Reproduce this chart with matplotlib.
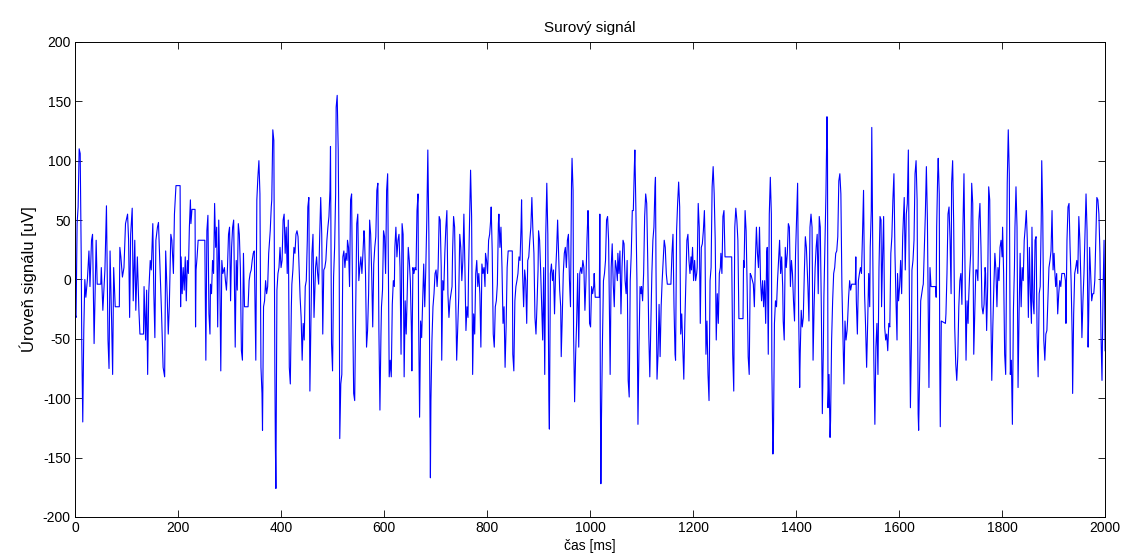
import numpy as np
import matplotlib
matplotlib.use("Agg")
import matplotlib.pyplot as plt

plt.rcParams['font.family'] = ['Liberation Sans', 'DejaVu Sans']
plt.rcParams['axes.unicode_minus'] = False

# raw signal, split into 200 ms pieces (time in ms, level in uV)
t_000 = [0, 2, 4, 6, 8, 10, 12, 13, 15, 17, 19, 21, 24, 27, 29, 32, 34, 37, 41, 43, 50, 51, 54, 58, 61, 64, 66, 68, 71, 73,
         75, 78, 86, 87, 89, 92, 95, 98, 102, 104, 106, 108, 111, 113, 116, 118, 121, 124, 126, 133, 134, 137, 139, 141,
         143, 146, 148, 151, 153, 155, 157, 160, 162, 165, 168, 171, 174, 176, 179, 181, 183, 186, 188, 191, 193, 196]
u_000 = [-29, -32, 47, 61, 110, 106, 19, -51, -120, -43, 0, -15, 0, 24, -6, 33, 38, -54, 33, -4, -4, 10, -26, 8, 62, -51,
         -75, 24, -35, -80, 10, -23, -23, 27, 19, 2, 10, 47, 55, 33, -32, 38, 60, -18, 33, -26, 19, -26, -46, -46, -6, -51,
         -9, -80, -12, 16, 8, 47, -12, -49, 33, 44, 48, 10, -29, -74, -82, 24, -15, -46, -23, 38, 33, 5, 55, 79]

t_200 = [204, 205, 206, 208, 210, 212, 214, 216, 218, 220, 222, 224, 225, 227, 233, 234, 235, 237, 239, 252, 253, 254, 256,
         258, 260, 262, 263, 265, 267, 269, 271, 273, 275, 277, 279, 281, 283, 285, 287, 290, 292, 294, 296, 298, 300, 302,
         304, 306, 308, 311, 313, 315, 317, 319, 321, 323, 325, 327, 329, 336, 338, 340, 342, 344, 346, 348, 350, 351, 353,
         355, 357, 359, 361, 363, 364, 366, 368, 370, 372, 374, 376, 379, 381, 382, 384, 386, 388, 389, 390, 392, 394]
u_200 = [79, -23, 19, -12, 10, -9, 19, -18, 16, 5, 44, 67, 47, 59, 59, -40, 8, 19, 33, 33, -23, -68, 41, 54, -29, -46, -4,
         -12, 16, 5, 64, 27, 44, -40, 50, 5, -77, 16, 5, 10, -1, -9, 10, 38, 44, -18, 27, 44, 50, -57, 16, -9, 47, 38, 10,
         -60, -68, 22, -23, -23, -1, 5, 8, 16, 22, 24, -35, -68, 67, 86, 100, 72, -74, -96, -127, -23, -18, -1, -12, -6, 22,
         41, 61, 67, 126, 117, -77, -141, -176, -9, 5]

t_400 = [396, 398, 400, 402, 404, 406, 408, 410, 412, 414, 416, 418, 420, 421, 423, 425, 427, 429, 431, 433, 435, 437, 439,
         441, 443, 445, 447, 449, 451, 452, 454, 456, 458, 460, 462, 464, 465, 467, 469, 471, 473, 475, 477, 479, 481, 483,
         485, 487, 489, 491, 493, 495, 496, 498, 500, 502, 504, 506, 507, 509, 511, 513, 514, 516, 518, 520, 522, 524, 526,
         528, 529, 531, 533, 535, 537, 539, 541, 543, 545, 547, 549, 551, 553, 555, 557, 559, 561, 562, 564, 566, 568, 570,
         572, 574, 576, 578, 580, 582, 584, 586, 588, 590, 592, 594, 595, 597, 599, 601, 603, 605, 607]
u_400 = [10, 27, 10, 16, 50, 55, 22, 44, 5, 50, -74, -88, -23, -4, 8, 27, 22, 38, 41, 36, 10, -15, -32, -68, -37, -51, -6,
         -1, 33, 61, 69, -94, -35, 22, 38, -32, -18, 10, 19, 5, -4, 36, 69, 38, -46, 8, 10, 16, 33, 44, 53, 75, 112, -54,
         -77, 2, 27, 72, 145, 155, 109, 5, -134, -88, -80, 19, 24, 10, 22, 16, 33, 27, -6, 67, 72, -23, -96, -102, -23, 47,
         55, -1, 10, 19, 5, 22, 41, 36, 5, -57, -43, -12, 50, 38, 5, -40, 13, 27, 36, 75, 81, -43, -110, -46, -23, -9, 41,
         36, 5, 75, 89]

t_600 = [610, 612, 614, 616, 618, 620, 621, 623, 625, 627, 629, 631, 633, 635, 637, 639, 641, 643, 645, 647, 649, 651, 653,
         654, 656, 658, 660, 662, 664, 666, 667, 669, 671, 673, 675, 677, 679, 681, 683, 685, 687, 689, 690, 691, 693, 695,
         697, 699, 701, 703, 705, 707, 709, 711, 712, 714, 716, 718, 720, 722, 724, 726, 728, 730, 732, 733, 735, 737, 739,
         741, 743, 745, 747, 749, 751, 753, 755, 757, 759, 761, 763, 764, 766, 768, 770, 772, 774, 776, 778, 780, 782, 784,
         786, 788, 790, 792, 794, 796, 797, 799, 801, 803, 805, 807]
u_600 = [-82, -68, -82, -21, -1, -6, 27, 44, 19, 33, 38, 10, -63, 47, 38, -82, -18, -46, -12, 27, 16, -1, -40, -77, 10, 5,
         10, 8, 58, 72, -29, -116, -35, -49, -18, 13, -23, 8, 50, 109, 38, -102, -167, -102, -51, -23, -12, 5, 8, -6, 10,
         53, 50, 10, -68, -1, -9, 22, 44, 58, -12, -32, -18, -12, -6, 22, 53, 44, -15, -68, -40, -15, 38, 27, -1, 16, 55,
         10, -43, -23, -32, 5, 50, 92, 53, -80, -29, -46, 5, 16, -6, 5, -12, -57, 13, 5, 10, -6, 22, 16, 5, 33, 38, 50]

t_800 = [808, 810, 812, 814, 816, 818, 820, 822, 823, 825, 827, 829, 831, 833, 835, 837, 839, 841, 849, 850, 852, 854, 856,
         858, 860, 862, 864, 866, 867, 869, 871, 873, 875, 877, 879, 881, 883, 885, 887, 889, 891, 893, 895, 897, 899, 900,
         902, 904, 906, 908, 910, 912, 914, 916, 918, 920, 921, 923, 925, 927, 929, 931, 933, 935, 937, 939, 941, 943, 944,
         946, 948, 950, 952, 954, 956, 958, 960, 962, 964, 965, 967, 968, 970, 972, 974, 976, 978, 980, 982, 984, 986, 988,
         990, 992, 994, 996, 997, 999, 1001, 1003, 1005, 1007]
u_800 = [61, 24, -46, -57, -23, -18, -4, 47, 55, 27, 44, 10, -37, -23, -74, -40, 10, 24, 24, -63, -77, -18, -6, -1, 5, 19,
         16, 44, 67, 5, -23, 8, -1, -37, 16, 19, 33, 44, 69, 41, 22, -32, -46, -21, 8, 41, 33, 8, -23, -51, 10, -80, 38, 81,
         38, -102, -126, 5, 13, -1, 8, -29, 5, 24, 50, 22, -9, -23, -65, -32, 5, 22, 27, 10, 33, 38, -1, -23, 81, 102, 75,
         -46, -103, -63, -35, 5, -57, 5, 10, 5, 16, 10, -26, -1, 33, 58, 44, -37, -40, -6, -12, -6]

t_1000 = [1008, 1010, 1018, 1019, 1020, 1021, 1022, 1024, 1026, 1028, 1030, 1032, 1034, 1036, 1038, 1039, 1041, 1043, 1045,
          1047, 1049, 1051, 1053, 1054, 1056, 1058, 1060, 1062, 1064, 1066, 1068, 1070, 1072, 1074, 1076, 1078, 1080, 1082,
          1084, 1086, 1087, 1089, 1091, 1093, 1095, 1097, 1099, 1100, 1102, 1104, 1106, 1108, 1110, 1112, 1114, 1116, 1118,
          1120, 1122, 1124, 1126, 1127, 1128, 1130, 1132, 1134, 1136, 1138, 1140, 1142, 1144, 1146, 1148, 1150, 1157, 1159,
          1161, 1163, 1165, 1166, 1168, 1170, 1172, 1174, 1176, 1178, 1180, 1182, 1184, 1186, 1188, 1190, 1192, 1194, 1196,
          1197, 1199, 1201, 1203, 1205, 1207]
u_1000 = [5, -15, -15, 55, -99, -172, -122, -54, -1, 5, 16, 50, 53, 33, -40, -80, 10, 30, -4, -23, 16, 10, -1, 22, 5, 24,
          -29, 10, 33, 30, -1, -12, 16, -85, -99, -1, 22, 58, 58, 95, 109, 58, -1, -122, -57, -6, -12, -6, -18, 5, 53, 72,
          64, 16, -46, -82, -40, 5, 33, 44, 78, 86, 10, -84, -63, -21, -65, -23, -1, 16, 33, 27, 5, -4, -4, 22, 38, -23,
          -63, -68, 41, 64, 82, 61, -46, -29, -57, -84, -37, -1, 33, 38, 16, 5, 19, 8, 27, -1, 16, -1, 5]

t_1200 = [1208, 1210, 1212, 1214, 1216, 1218, 1220, 1222, 1223, 1225, 1227, 1229, 1231, 1233, 1235, 1237, 1239, 1241, 1243,
          1245, 1247, 1249, 1251, 1253, 1254, 1256, 1258, 1260, 1262, 1275, 1276, 1277, 1279, 1281, 1283, 1285, 1287, 1289,
          1297, 1298, 1299, 1301, 1303, 1305, 1307, 1309, 1311, 1313, 1317, 1319, 1321, 1323, 1325, 1327, 1329, 1331, 1333,
          1335, 1337, 1339, 1341, 1343, 1344, 1346, 1348, 1350, 1352, 1353, 1355, 1356, 1358, 1360, 1362, 1364, 1366, 1368,
          1370, 1372, 1374, 1375, 1377, 1379, 1381, 1383, 1385, 1387, 1389, 1391, 1393, 1395, 1397, 1399, 1401, 1403, 1405,
          1407]
u_1200 = [10, 64, 44, -37, 27, 30, 41, 58, 38, -63, -35, -80, -102, -1, 10, 78, 95, 72, 33, -51, -12, -37, 5, 10, 22, 5,
          53, 58, 19, 19, -23, -63, -94, 44, 60, 50, 33, -33, -33, 16, 10, 58, 41, -6, -65, -80, 5, 3, -4, -23, 16, 44, 22,
          10, 44, -1, -18, -1, -23, -1, -37, 22, 27, -63, 55, 86, 55, -74, -147, -136, -37, -18, -23, -1, 16, 33, 5, 19, -6,
          -35, -51, 27, 10, 22, 47, 44, -6, 16, 5, -18, -35, 22, 50, 81, -29, -91]

t_1400 = [1408, 1410, 1412, 1414, 1416, 1418, 1420, 1422, 1423, 1425, 1427, 1429, 1431, 1433, 1435, 1437, 1439, 1441, 1443,
          1445, 1447, 1449, 1451, 1453, 1454, 1456, 1458, 1460, 1461, 1462, 1464, 1466, 1467, 1469, 1471, 1473, 1475, 1477,
          1479, 1481, 1483, 1485, 1487, 1489, 1491, 1493, 1495, 1497, 1499, 1500, 1502, 1504, 1506, 1508, 1515, 1516, 1517,
          1519, 1521, 1523, 1525, 1527, 1529, 1531, 1533, 1535, 1537, 1539, 1541, 1543, 1544, 1546, 1547, 1549, 1551, 1553,
          1555, 1557, 1559, 1561, 1563, 1565, 1566, 1568, 1570, 1572, 1574, 1576, 1578, 1580, 1582, 1584, 1586, 1588, 1590,
          1592, 1594, 1596, 1597, 1599, 1601, 1603, 1605, 1607]
u_1400 = [-63, -26, -40, -32, 5, 36, 27, 5, -6, -35, 44, 55, 44, -68, -23, 10, 27, 38, -12, 53, 44, -23, -113, -57, -15,
          27, 72, 137, 109, -108, -80, -133, -119, -51, -18, 5, 10, 22, 24, 36, 83, 89, 72, -6, -46, -88, -35, -51, -43,
          -35, -15, -1, -9, -4, -4, 19, -18, -46, -1, 5, 10, 5, 38, 75, -12, -40, -74, -37, 5, -23, 27, 58, 128, 19, -68,
          -122, -57, -37, -80, 10, 53, 50, -23, 19, 53, -40, -51, -46, -60, -37, -40, 22, 36, 67, 89, 22, -18, -51, 5, -18,
          -6, 16, -12, 36]

t_1600 = [1610, 1612, 1614, 1616, 1618, 1620, 1622, 1624, 1625, 1627, 1629, 1631, 1633, 1635, 1637, 1638, 1640, 1642, 1644,
          1646, 1647, 1649, 1651, 1653, 1655, 1657, 1658, 1660, 1662, 1671, 1672, 1673, 1675, 1676, 1678, 1679, 1680, 1682,
          1690, 1691, 1693, 1695, 1697, 1699, 1701, 1702, 1704, 1706, 1708, 1710, 1712, 1714, 1716, 1718, 1720, 1722, 1724,
          1726, 1728, 1730, 1732, 1734, 1735, 1737, 1739, 1741, 1743, 1745, 1747, 1749, 1751, 1753, 1755, 1757, 1759, 1761,
          1763, 1765, 1767, 1768, 1770, 1772, 1774, 1776, 1778, 1780, 1782, 1784, 1786, 1788, 1790, 1792, 1794, 1796, 1798,
          1800, 1801, 1803, 1805, 1807]
u_1600 = [69, 8, 55, 64, 109, -12, -108, -51, 8, 16, 33, 89, 100, 67, -113, -127, -77, -18, -12, -6, -4, 27, 55, 95, 50,
          -43, -91, 10, -6, -6, -15, 44, 89, 102, 72, -71, -124, -35, -37, -29, 5, 55, 61, 33, -12, 81, 100, 47, -40, -71,
          -85, -65, -23, -1, 5, -21, 44, 89, 8, -68, -18, -37, -18, 5, 22, 81, 64, -63, -29, 8, 8, -1, 50, 64, 27, -23, -29,
          -21, 10, 5, -43, -6, 78, 67, -23, -85, -40, -6, 22, 8, -23, 10, -1, 27, 33, 19, 44, 5, -63, -80]

t_1800 = [1808, 1810, 1812, 1814, 1816, 1818, 1820, 1822, 1824, 1825, 1827, 1829, 1831, 1833, 1835, 1837, 1839, 1841, 1843,
          1845, 1847, 1849, 1851, 1853, 1855, 1857, 1858, 1860, 1862, 1864, 1866, 1868, 1870, 1872, 1874, 1876, 1877, 1879,
          1881, 1883, 1885, 1887, 1889, 1891, 1893, 1895, 1897, 1899, 1901, 1902, 1904, 1906, 1908, 1910, 1912, 1914, 1916,
          1921, 1923, 1924, 1926, 1928, 1930, 1932, 1934, 1936, 1937, 1939, 1941, 1943, 1945, 1947, 1949, 1951, 1953, 1955,
          1957, 1959, 1961, 1963, 1965, 1967, 1968, 1970, 1972, 1974, 1976, 1978, 1980, 1982, 1984, 1986, 1988, 1990, 1992,
          1994, 1996, 1998, 2000]
u_1800 = [-29, 81, 126, 89, -80, -68, -122, -26, 10, 44, 78, 44, -91, -29, 22, -23, 10, -1, 33, 44, 58, 33, -32, 27, -12,
          -37, 44, -18, -29, 33, 36, -46, -82, -12, -6, 50, 100, 53, -51, -68, -46, -43, -15, 10, 16, 24, 58, 8, 22, 10,
          -6, 5, -29, -12, -1, -6, 5, 5, -1, -37, 33, 61, 64, 27, -1, -46, -96, -29, 5, 10, 16, 5, 53, 33, -1, -49, -18, 5,
          38, 72, 41, -57, -35, 27, 5, -18, -12, -12, -1, 33, 69, 67, 55, 22, -46, -85, -12, 33, -60]

t = np.concatenate([t_000, t_200, t_400, t_600, t_800, t_1000, t_1200, t_1400, t_1600, t_1800])
u = np.concatenate([u_000, u_200, u_400, u_600, u_800, u_1000, u_1200, u_1400, u_1600, u_1800])

fig = plt.figure(figsize=(11.25, 5.55), dpi=100)
ax = fig.add_axes([0.0667, 0.0685, 0.9156, 0.856])
ax.plot(t, u, color='#0000ff', linewidth=0.8)

ax.set_xlim(0, 2000)
ax.set_ylim(-200, 200)
ax.set_xticks(np.arange(0, 2001, 200))
ax.set_yticks(np.arange(-200, 201, 50))
ax.tick_params(direction='in', top=True, right=True, length=5, width=0.6, labelsize=10, pad=3)
for s in ax.spines.values():
    s.set_linewidth(0.7)

ax.set_title('Surový signál', fontsize=11, pad=7)
ax.set_ylabel('Úroveň signálu [uV]', fontsize=12, labelpad=4)
ax.set_xlabel('čas [ms]', fontsize=10, labelpad=3)

fig.savefig('out.png', dpi=100)
